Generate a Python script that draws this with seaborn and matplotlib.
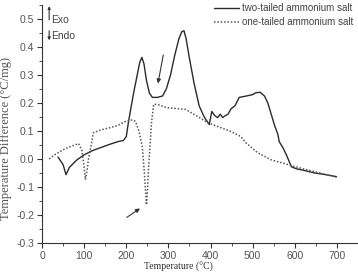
import matplotlib
matplotlib.use("Agg")
import matplotlib.pyplot as plt
from matplotlib.ticker import MultipleLocator
import pandas as pd
import seaborn as sns

# ── Data ─────────────────────────────────────────────────────────────
two_tailed_temp = [38, 50, 57, 65, 83, 100, 120, 138, 160, 180,
                   193, 200, 205, 212, 218, 226, 232, 237, 242, 248,
                   255, 262, 274, 286, 295, 305, 315, 325, 332, 337,
                   342, 349, 361, 373, 385, 397, 403, 410, 417, 423,
                   429, 435, 441, 449, 458, 468, 485, 500, 508, 518,
                   528, 536, 544, 552, 560, 563, 572, 580, 592, 604,
                   620, 647, 670, 699]
two_tailed_diff = [0.007, -0.02, -0.056, -0.03, -0.003, 0.015, 0.03, 0.04, 0.052, 0.062,
                   0.066, 0.08, 0.13, 0.19, 0.24, 0.30, 0.345, 0.363, 0.34, 0.28,
                   0.235, 0.22, 0.22, 0.225, 0.25, 0.30, 0.37, 0.43, 0.455, 0.458,
                   0.43, 0.367, 0.27, 0.19, 0.15, 0.123, 0.17, 0.155, 0.148, 0.16,
                   0.148, 0.155, 0.159, 0.18, 0.19, 0.22, 0.225, 0.23, 0.237, 0.238,
                   0.225, 0.2, 0.16, 0.12, 0.087, 0.062, 0.04, 0.015, -0.028, -0.035,
                   -0.04, -0.05, -0.055, -0.063]

one_tailed_temp = [17, 30, 50, 67, 87, 95, 100, 103, 107, 110,
                   118, 122, 140, 162, 180, 198, 215, 222, 230, 238,
                   243, 246, 248, 250, 253, 257, 260, 265, 274, 297,
                   320, 341, 369, 393, 417, 449, 472, 484, 512, 544,
                   584, 620, 660, 699]
one_tailed_diff = [0.0, 0.015, 0.033, 0.044, 0.055, 0.03, -0.03, -0.074, -0.04, -0.003,
                   0.06, 0.094, 0.104, 0.112, 0.12, 0.134, 0.14, 0.134, 0.1, 0.044,
                   -0.05, -0.12, -0.164, -0.12, -0.03, 0.06, 0.13, 0.195, 0.195, 0.183,
                   0.18, 0.177, 0.152, 0.13, 0.116, 0.098, 0.08, 0.058, 0.022, -0.003,
                   -0.02, -0.035, -0.05, -0.065]

series_labels = ["two-tailed ammonium salt", "one-tailed ammonium salt"]

x_ticks = [0, 100, 200, 300, 400, 500, 600, 700]
y_ticks = [-0.3, -0.2, -0.1, 0.0, 0.1, 0.2, 0.3, 0.4, 0.5]

# ── Figure ───────────────────────────────────────────────────────────
sns.set_style("ticks")
plt.rcParams["font.family"] = ["Liberation Sans", "DejaVu Sans"]

df_two = pd.DataFrame({"T": two_tailed_temp, "dT": two_tailed_diff})
df_one = pd.DataFrame({"T": one_tailed_temp, "dT": one_tailed_diff})

fig = plt.figure(figsize=(3.58, 2.78), dpi=100)
ax = fig.add_axes([42 / 358, 35 / 278, 316 / 358, 238 / 278])

sns.lineplot(data=df_two, x="T", y="dT", ax=ax, sort=False, estimator=None,
             color="#2b2b2b", lw=1.0, label=series_labels[0])
sns.lineplot(data=df_one, x="T", y="dT", ax=ax, sort=False, estimator=None,
             color="#555555", lw=1.1, linestyle=(0, (1, 1.2)), label=series_labels[1])

ax.set_xlim(0, 750)
ax.set_ylim(-0.3, 0.55)
ax.set_xticks(x_ticks)
ax.set_yticks(y_ticks)
ax.set_yticklabels([f"{t:.1f}" for t in y_ticks])
ax.xaxis.set_minor_locator(MultipleLocator(50))
ax.yaxis.set_minor_locator(MultipleLocator(0.05))
ax.tick_params(which="major", length=3.5, width=0.8, labelsize=7.5,
               colors="#333333", labelcolor="#555555", pad=2)
ax.tick_params(which="minor", length=2, width=0.6, colors="#333333")

sns.despine(ax=ax)
for side in ("left", "bottom"):
    ax.spines[side].set_color("#333333")
    ax.spines[side].set_linewidth(0.8)

ax.set_xlabel("")
ax.set_ylabel("Temperature Difference (°C/mg)", family=["Liberation Serif", "DejaVu Serif"],
              fontsize=9, color="#555555")
# label sits hard against the left edge, a bit below the axes centre
ax.yaxis.set_label_coords((12 - 42) / 316, (243 - 138) / 238)
fig.text(178 / 358, 6 / 278, "Temperature (°C)", family=["Liberation Serif", "DejaVu Serif"],
         fontsize=7, color="#333333", ha="center", va="bottom")

# Exo / Endo direction markers
ax.annotate("", xy=(17, 0.556), xytext=(17, 0.487), annotation_clip=False,
            arrowprops=dict(arrowstyle="-|>", color="#333333", lw=0.8, mutation_scale=4))
ax.annotate("", xy=(17, 0.414), xytext=(17, 0.468), annotation_clip=False,
            arrowprops=dict(arrowstyle="-|>", color="#333333", lw=0.8, mutation_scale=4))
ax.text(22, 0.497, "Exo", fontsize=7.5, color="#444444", va="center")
ax.text(22, 0.44, "Endo", fontsize=7.5, color="#444444", va="center")

# pointer arrows
ax.annotate("", xy=(274, 0.26), xytext=(289, 0.381),
            arrowprops=dict(arrowstyle="-|>", color="#333333", lw=0.8, mutation_scale=6))
ax.annotate("", xy=(238, -0.171), xytext=(196, -0.214),
            arrowprops=dict(arrowstyle="-|>", color="#333333", lw=0.8, mutation_scale=6))

leg = ax.legend(loc="upper left", bbox_to_anchor=(214 / 358, 1 - 3 / 278),
                bbox_transform=fig.transFigure, frameon=False, fontsize=7,
                handlelength=2.6, handletextpad=0.3, labelspacing=0.45,
                borderaxespad=0, borderpad=0)
for txt in leg.get_texts():
    txt.set_color("#444444")

fig.savefig("out.png", dpi=100)
